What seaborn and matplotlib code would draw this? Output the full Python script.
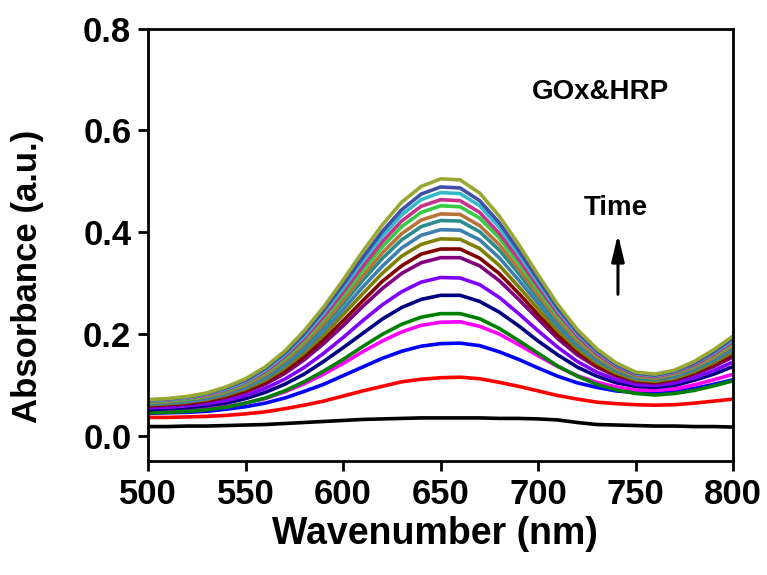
import numpy as np
import pandas as pd
import matplotlib
matplotlib.use("Agg")
import matplotlib.pyplot as plt
import seaborn as sns

wavelength = list(range(500, 801, 10))

s01_black = [0.018, 0.018, 0.019, 0.019, 0.020, 0.021, 0.022, 0.024, 0.026, 0.028, 0.030, 0.032, 0.033, 0.034, 0.035, 0.035,
             0.035, 0.035, 0.034, 0.034, 0.033, 0.031, 0.026, 0.022, 0.021, 0.020, 0.019, 0.019, 0.018, 0.018, 0.017]
s02_red = [0.036, 0.036, 0.037, 0.038, 0.040, 0.043, 0.047, 0.053, 0.060, 0.068, 0.078, 0.088, 0.097, 0.106, 0.111, 0.114,
           0.115, 0.112, 0.105, 0.097, 0.088, 0.079, 0.072, 0.066, 0.063, 0.061, 0.060, 0.061, 0.064, 0.068, 0.072]
s03_blue = [0.044, 0.045, 0.046, 0.048, 0.052, 0.057, 0.064, 0.074, 0.087, 0.101, 0.118, 0.135, 0.152, 0.166, 0.176, 0.181,
            0.182, 0.177, 0.165, 0.150, 0.133, 0.117, 0.104, 0.095, 0.088, 0.085, 0.084, 0.087, 0.093, 0.101, 0.110]
s04_magenta = [0.047, 0.048, 0.050, 0.053, 0.057, 0.064, 0.073, 0.086, 0.102, 0.121, 0.142, 0.165, 0.186, 0.204, 0.217, 0.223,
               0.224, 0.215, 0.200, 0.179, 0.157, 0.136, 0.118, 0.105, 0.096, 0.090, 0.089, 0.092, 0.100, 0.110, 0.121]
s05_green = [0.045, 0.046, 0.048, 0.051, 0.056, 0.064, 0.074, 0.088, 0.106, 0.127, 0.150, 0.175, 0.199, 0.219, 0.233, 0.240,
             0.240, 0.230, 0.211, 0.187, 0.162, 0.137, 0.117, 0.101, 0.090, 0.083, 0.080, 0.083, 0.089, 0.098, 0.108]
s06_navy = [0.051, 0.053, 0.055, 0.059, 0.064, 0.073, 0.085, 0.101, 0.121, 0.146, 0.173, 0.201, 0.229, 0.252, 0.268, 0.276,
            0.276, 0.264, 0.243, 0.216, 0.186, 0.159, 0.135, 0.117, 0.104, 0.097, 0.095, 0.099, 0.109, 0.121, 0.136]
s07_violet = [0.055, 0.056, 0.059, 0.063, 0.069, 0.079, 0.093, 0.111, 0.134, 0.162, 0.193, 0.226, 0.257, 0.283, 0.302, 0.311,
              0.310, 0.297, 0.272, 0.240, 0.206, 0.174, 0.146, 0.125, 0.110, 0.101, 0.099, 0.104, 0.114, 0.128, 0.145]
s08_purple = [0.058, 0.060, 0.062, 0.067, 0.075, 0.086, 0.101, 0.122, 0.149, 0.181, 0.216, 0.254, 0.289, 0.319, 0.340, 0.350,
              0.350, 0.334, 0.305, 0.268, 0.229, 0.191, 0.159, 0.135, 0.117, 0.106, 0.103, 0.109, 0.121, 0.136, 0.155]
s09_wine = [0.059, 0.061, 0.064, 0.069, 0.077, 0.088, 0.105, 0.127, 0.155, 0.189, 0.226, 0.265, 0.303, 0.334, 0.357, 0.367,
            0.367, 0.349, 0.319, 0.280, 0.238, 0.198, 0.165, 0.138, 0.120, 0.108, 0.105, 0.111, 0.123, 0.140, 0.160]
s10_olive = [0.061, 0.063, 0.066, 0.071, 0.080, 0.092, 0.109, 0.133, 0.163, 0.198, 0.238, 0.279, 0.319, 0.353, 0.376, 0.387,
             0.386, 0.368, 0.335, 0.293, 0.249, 0.207, 0.171, 0.143, 0.123, 0.110, 0.107, 0.113, 0.126, 0.144, 0.165]
s11_steel = [0.062, 0.064, 0.067, 0.073, 0.082, 0.095, 0.113, 0.138, 0.169, 0.206, 0.248, 0.292, 0.333, 0.369, 0.394, 0.405,
             0.404, 0.385, 0.350, 0.306, 0.260, 0.215, 0.177, 0.148, 0.127, 0.113, 0.110, 0.116, 0.130, 0.148, 0.170]
s12_teal = [0.064, 0.066, 0.070, 0.076, 0.085, 0.098, 0.117, 0.143, 0.176, 0.215, 0.259, 0.305, 0.348, 0.385, 0.411, 0.423,
            0.422, 0.401, 0.365, 0.319, 0.270, 0.223, 0.183, 0.152, 0.129, 0.115, 0.111, 0.119, 0.133, 0.152, 0.174]
s13_brown = [0.065, 0.067, 0.071, 0.077, 0.086, 0.100, 0.120, 0.147, 0.181, 0.221, 0.266, 0.314, 0.359, 0.397, 0.424, 0.436,
             0.435, 0.413, 0.376, 0.328, 0.277, 0.229, 0.187, 0.155, 0.132, 0.117, 0.113, 0.121, 0.135, 0.154, 0.178]
s14_lime = [0.066, 0.069, 0.072, 0.079, 0.088, 0.103, 0.124, 0.151, 0.187, 0.229, 0.275, 0.325, 0.371, 0.411, 0.439, 0.452,
            0.450, 0.428, 0.389, 0.339, 0.286, 0.236, 0.193, 0.159, 0.135, 0.119, 0.115, 0.123, 0.137, 0.158, 0.182]
s15_pink = [0.068, 0.070, 0.074, 0.080, 0.090, 0.105, 0.126, 0.155, 0.191, 0.234, 0.282, 0.333, 0.381, 0.422, 0.451, 0.464,
            0.462, 0.439, 0.398, 0.347, 0.293, 0.241, 0.196, 0.161, 0.136, 0.120, 0.116, 0.124, 0.139, 0.160, 0.185]
s16_cyan = [0.069, 0.071, 0.075, 0.082, 0.092, 0.107, 0.129, 0.159, 0.196, 0.241, 0.290, 0.343, 0.392, 0.434, 0.464, 0.478,
            0.476, 0.452, 0.410, 0.357, 0.301, 0.247, 0.201, 0.165, 0.139, 0.122, 0.118, 0.126, 0.142, 0.163, 0.189]
s17_slate = [0.070, 0.072, 0.076, 0.083, 0.094, 0.109, 0.132, 0.162, 0.200, 0.246, 0.297, 0.350, 0.401, 0.444, 0.475, 0.489,
             0.487, 0.462, 0.419, 0.364, 0.307, 0.251, 0.204, 0.167, 0.140, 0.123, 0.119, 0.127, 0.143, 0.165, 0.192]
s18_khaki = [0.071, 0.073, 0.077, 0.084, 0.096, 0.112, 0.135, 0.166, 0.206, 0.253, 0.306, 0.362, 0.414, 0.459, 0.490, 0.505,
             0.503, 0.477, 0.432, 0.376, 0.316, 0.258, 0.209, 0.171, 0.143, 0.125, 0.121, 0.129, 0.146, 0.169, 0.196]

series = [s01_black, s02_red, s03_blue, s04_magenta, s05_green, s06_navy, s07_violet, s08_purple, s09_wine,
          s10_olive, s11_steel, s12_teal, s13_brown, s14_lime, s15_pink, s16_cyan, s17_slate, s18_khaki]
colors = ["#000000", "#FF0000", "#0000FF", "#FF00FF", "#008000", "#000080", "#8000FF", "#800080", "#800000",
          "#808000", "#3F7FB0", "#2A8C8C", "#B8733A", "#33CC44", "#C8308C", "#33BBCC", "#4050A8", "#99A833"]

rows = []
for k, s in enumerate(series):
    for w, v in zip(wavelength, s):
        rows.append({"wavelength": w, "absorbance": v, "scan": k})
df = pd.DataFrame(rows)

sns.set_style("ticks")
plt.rcParams["font.family"] = ["Liberation Sans", "DejaVu Sans"]
plt.rcParams["font.weight"] = "bold"
plt.rcParams["text.color"] = "black"
plt.rcParams["axes.labelcolor"] = "black"
plt.rcParams["xtick.color"] = "black"
plt.rcParams["ytick.color"] = "black"

fig = plt.figure(figsize=(7.67, 5.75), dpi=100)
ax = fig.add_axes([0.193, 0.198, 0.763, 0.752])

sns.lineplot(data=df, x="wavelength", y="absorbance", hue="scan", palette=colors,
             linewidth=2.6, legend=False, ax=ax, sort=False)

ax.set_xlim(500, 800)
ax.set_ylim(-0.05, 0.8)
ax.set_xticks([500, 550, 600, 650, 700, 750, 800])
ax.set_yticks([0.0, 0.2, 0.4, 0.6, 0.8])
ax.set_yticklabels(["0.0", "0.2", "0.4", "0.6", "0.8"])
for sp in ax.spines.values():
    sp.set_linewidth(2.0)
    sp.set_color("black")
ax.tick_params(axis="both", direction="out", length=7, width=2.0, labelsize=25, pad=5,
               colors="black", labelcolor="black")
for lab in ax.get_xticklabels() + ax.get_yticklabels():
    lab.set_fontweight("bold")

ax.set_xlabel("Wavenumber (nm)", fontsize=27, fontweight="bold", color="black")
ax.set_ylabel("Absorbance (a.u.)", fontsize=25, fontweight="bold", color="black")
ax.xaxis.set_label_coords(0.49, -0.128)
ax.yaxis.set_label_coords(-0.178, 0.428)

ax.text(731.7, 0.676, "GOx&HRP", fontsize=20, fontweight="bold", ha="center", va="center", color="black")
ax.text(740.0, 0.447, "Time", fontsize=20, fontweight="bold", ha="center", va="center", color="black")
ax.annotate("", xy=(740.9, 0.396), xytext=(740.9, 0.278),
            arrowprops=dict(arrowstyle="-|>,head_length=1.6,head_width=0.38", mutation_scale=10,
                            color="black", lw=2.2, shrinkA=0, shrinkB=0))

fig.savefig("out.png", dpi=100)
